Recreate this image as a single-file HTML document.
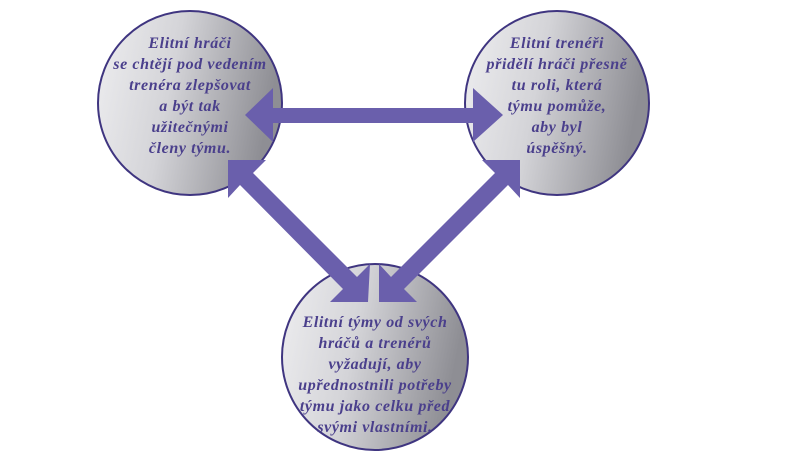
<!DOCTYPE html>
<html><head><meta charset="utf-8"><style>
html,body{margin:0;padding:0;background:#fff;}
body{width:800px;height:451px;overflow:hidden;position:relative;}
svg{position:absolute;left:0;top:0;}
text{font-family:"Liberation Serif",serif;font-style:italic;font-weight:bold;font-size:16px;letter-spacing:0.6px;fill:#4a3f8c;text-anchor:middle;}
</style></head><body>
<svg width="800" height="451" viewBox="0 0 800 451">
<defs>
<linearGradient id="g" x1="0" y1="0" x2="1" y2="0.2">
<stop offset="0" stop-color="#eeeef0"/><stop offset="0.45" stop-color="#d4d4d8"/><stop offset="1" stop-color="#8e8e94"/>
</linearGradient>
</defs>
<circle cx="190" cy="103" r="92" fill="url(#g)" stroke="#3f3580" stroke-width="2"/>
<circle cx="557" cy="103" r="92" fill="url(#g)" stroke="#3f3580" stroke-width="2"/>
<circle cx="375" cy="357" r="93" fill="url(#g)" stroke="#3f3580" stroke-width="2"/>
<g fill="#6a5fac">
<polygon points="245,115 273,88 273,108 473,108 473,88 503,115 473,142 473,123 273,123 273,142"/>
<polygon points="228,160 266,160 253,173 357,277 370,264 368,302 330,302 343,289 240,185 228,198"/>
<polygon points="520,160 482,160 495,173 391,277 379,264 379,302 417,302 404,289 508,185 520,198"/>
</g>
<g>
<text x="190" y="48">Elitní hráči</text>
<text x="190" y="69">se chtějí pod vedením</text>
<text x="190" y="90">trenéra zlepšovat</text>
<text x="190" y="111">a být tak</text>
<text x="190" y="132">užitečnými</text>
<text x="190" y="153">členy týmu.</text>
<text x="557" y="48">Elitní trenéři</text>
<text x="557" y="69">přidělí hráči přesně</text>
<text x="557" y="90">tu roli, která</text>
<text x="557" y="111">týmu pomůže,</text>
<text x="557" y="132">aby byl</text>
<text x="557" y="153">úspěšný.</text>
<text x="375" y="327">Elitní týmy od svých</text>
<text x="375" y="348">hráčů a trenérů</text>
<text x="375" y="369">vyžadují, aby</text>
<text x="375" y="390">upřednostnili potřeby</text>
<text x="375" y="411">týmu jako celku před</text>
<text x="375" y="432">svými vlastními.</text>
</g>
</svg>
</body></html>
